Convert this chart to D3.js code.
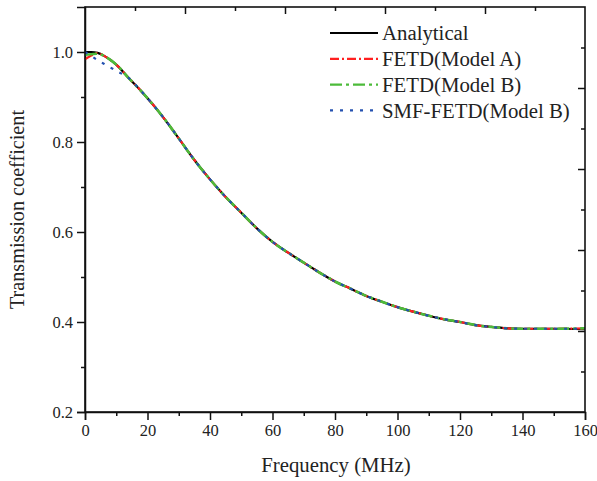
<!DOCTYPE html>
<html>
<head>
<meta charset="utf-8">
<script src="https://cdn.jsdelivr.net/npm/d3@7"></script>
<style>
  body { margin: 0; background: #fff; }
  svg text { font-family: "Liberation Serif", "Times New Roman", serif !important; fill: #222; }
</style>
</head>
<body>
<div id="chart"></div>
<script>
var width = 597,
    height = 481;

var margin = {left: 85, right: 12, top: 7, bottom: 69};
var serif = "'Liberation Serif', 'Times New Roman', serif";

// frequency (MHz) and transmission coefficient
var freq       = [0, 2, 4, 6, 8, 10, 14, 18, 22, 26, 30, 35, 40, 45, 50, 55, 60, 65, 70, 75, 80, 85, 90, 95, 100, 105, 110, 115, 120, 125, 130, 135, 140, 150, 160];
var analytical = [1.0, 1.0, 0.998, 0.992, 0.983, 0.972, 0.942, 0.913, 0.881, 0.846, 0.808, 0.760, 0.717, 0.678, 0.643, 0.608, 0.578, 0.554, 0.532, 0.510, 0.490, 0.474, 0.458, 0.445, 0.433, 0.423, 0.414, 0.406, 0.400, 0.393, 0.389, 0.386, 0.385, 0.385, 0.384];
var fetdA      = [0.984, 0.992, 0.998, 0.992, 0.983, 0.972, 0.942, 0.913, 0.881, 0.846, 0.808, 0.760, 0.717, 0.678, 0.643, 0.608, 0.578, 0.554, 0.532, 0.510, 0.490, 0.474, 0.458, 0.445, 0.433, 0.423, 0.414, 0.406, 0.400, 0.393, 0.389, 0.386, 0.385, 0.385, 0.386];
var fetdB      = [0.994, 0.995, 0.996, 0.992, 0.983, 0.972, 0.942, 0.913, 0.881, 0.846, 0.808, 0.760, 0.717, 0.678, 0.643, 0.608, 0.578, 0.554, 0.532, 0.510, 0.490, 0.474, 0.458, 0.445, 0.433, 0.423, 0.414, 0.406, 0.400, 0.393, 0.389, 0.386, 0.385, 0.385, 0.386];
var smfB       = [1.0, 0.991, 0.982, 0.974, 0.966, 0.958, 0.942, 0.913, 0.881, 0.846, 0.808, 0.760, 0.717, 0.678, 0.643, 0.608, 0.578, 0.554, 0.532, 0.510, 0.490, 0.474, 0.458, 0.445, 0.433, 0.423, 0.414, 0.406, 0.400, 0.393, 0.389, 0.386, 0.385, 0.385, 0.385];

var xTicks = [0, 20, 40, 60, 80, 100, 120, 140, 160];
var yTicks = [0.2, 0.4, 0.6, 0.8, 1.0];

var seriesNames = ["Analytical", "FETD(Model A)", "FETD(Model B)", "SMF-FETD(Model B)"];
var seriesData  = [analytical, fetdA, fetdB, smfB];
var seriesColor = ["#000000", "#ff2020", "#4cbb3a", "#2350b0"];
var seriesDash  = ["none", "9,3,2,3", "12,4,3,4", "3,7"];

var svg = d3.select("#chart").append("svg")
    .attr("width", width)
    .attr("height", height)

var x = d3.scaleLinear().domain([0, 160]).range([margin.left, width - margin.right]);
var y = d3.scaleLinear().domain([0.2, 1.1]).range([height - margin.bottom, margin.top]);

var plotW = width - margin.left - margin.right;
var plotH = height - margin.top - margin.bottom;

// bottom axis
svg.append("g")
    .attr("transform", "translate(0," + y(0.2) + ")")
    .call(d3.axisBottom(x).tickValues(d3.range(10, 160, 20)).tickSize(4).tickFormat(""))
    .call(g => g.select(".domain").remove());
svg.append("g")
    .attr("transform", "translate(0," + y(0.2) + ")")
    .call(d3.axisBottom(x).tickValues(xTicks).tickSize(8).tickPadding(4))
    .attr("font-family", serif)
    .attr("font-size", 16.5);

// left axis
svg.append("g")
    .attr("transform", "translate(" + x(0) + ",0)")
    .call(d3.axisLeft(y).tickValues([0.3, 0.5, 0.7, 0.9]).tickSize(4).tickFormat(""))
    .call(g => g.select(".domain").remove());
svg.append("g")
    .attr("transform", "translate(" + x(0) + ",0)")
    .call(d3.axisLeft(y).tickValues(yTicks).tickSize(8).tickPadding(4).tickFormat(d3.format(".1f")))
    .attr("font-family", serif)
    .attr("font-size", 16.5);

// top and right frame ticks (inward, evenly spaced)
var xs = d3.scaleLinear().domain([0, 10]).range([x(0), x(160)]);
var ys = d3.scaleLinear().domain([0, 10]).range([y(0.2), y(1.1)]);
svg.append("g")
    .attr("transform", "translate(0," + margin.top + ")")
    .call(d3.axisBottom(xs).tickValues(d3.range(1, 10)).tickSizeInner(0).tickSizeOuter(0).tickFormat(""))
    .call(g => g.selectAll(".tick line").attr("y2", (d) => d % 2 == 0 ? 7 : 4))
    .call(g => g.select(".domain").remove());
svg.append("g")
    .attr("transform", "translate(" + x(160) + ",0)")
    .call(d3.axisLeft(ys).tickValues(d3.range(1, 10)).tickFormat(""))
    .call(g => g.selectAll(".tick line").attr("x2", (d) => d % 2 == 0 ? -7 : -4))
    .call(g => g.select(".domain").remove());

svg.selectAll(".tick line").attr("stroke", "#111").attr("stroke-width", 1.5);
svg.selectAll(".domain").attr("stroke", "#111").attr("stroke-width", 1.5);
svg.selectAll(".tick text").attr("fill", "#222");

// curves
var line = d3.line()
    .x((d, i) => x(freq[i]))
    .y(d => y(d))
    .curve(d3.curveMonotoneX);

seriesData.forEach(function(s, k) {
  svg.append("path")
      .datum(s)
      .attr("d", line)
      .attr("fill", "none")
      .attr("stroke", seriesColor[k])
      .attr("stroke-width", k == 2 ? 2.6 : 2.2)
      .attr("stroke-dasharray", seriesDash[k]);
});

// frame
svg.append("rect")
    .attr("x", margin.left)
    .attr("y", margin.top)
    .attr("width", plotW)
    .attr("height", plotH)
    .attr("fill", "none")
    .attr("stroke", "#111")
    .attr("stroke-width", 1.6);

// legend
var legend = svg.append("g").attr("transform", "translate(330,33)");
seriesNames.forEach(function(name, k) {
  var row = legend.append("g").attr("transform", "translate(0," + (k * 25.8) + ")");
  row.append("line")
      .attr("x1", 0).attr("x2", 48)
      .attr("stroke", seriesColor[k])
      .attr("stroke-width", 2.2)
      .attr("stroke-dasharray", seriesDash[k]);
  row.append("text")
      .attr("x", 52)
      .attr("dy", "0.35em")
      .attr("font-size", 20.8)
      .text(name);
});

// axis titles
svg.append("text")
    .attr("x", x(80) + 1)
    .attr("y", 472)
    .attr("text-anchor", "middle")
    .attr("font-size", 20.8)
    .text("Frequency (MHz)");

svg.append("text")
    .attr("transform", "translate(24," + (margin.top + plotH / 2) + ") rotate(-90)")
    .attr("text-anchor", "middle")
    .attr("font-size", 20.2)
    .text("Transmission coefficient");
</script>
</body>
</html>
